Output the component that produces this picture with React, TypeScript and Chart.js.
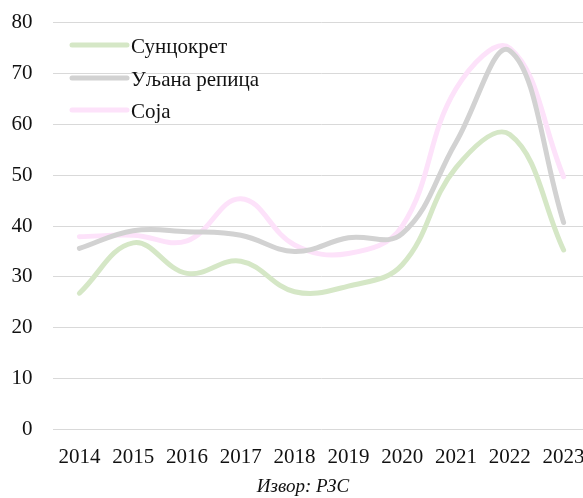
import React, { useEffect, useRef } from "react";
import { Chart, registerables } from "chart.js";

Chart.register(...registerables);

const years = ["2014", "2015", "2016", "2017", "2018", "2019", "2020", "2021", "2022", "2023"];
const sunflower = [26.8, 36.7, 30.7, 33.1, 27.1, 28.2, 32.4, 51.5, 58.0, 35.3];
const rapeseed = [35.6, 39.1, 38.9, 38.2, 35.0, 37.7, 38.5, 56.5, 74.5, 40.7];
const soy = [37.9, 38.2, 37.1, 45.4, 36.3, 34.6, 40.0, 67.0, 75.0, 49.7];
const seriesLabels = ["Сунцокрет", "Уљана репица", "Соја"];
const seriesColors = ["#d5e7c6", "#d2d2d2", "#fde2fa"];
const yMin = 0;
const yMax = 80;
const yStep = 10;
const sourceText = "Извор: РЗС";

const FONT = "'Liberation Serif', serif";

const legendPlugin = {
  id: "insideLegend",
  afterDatasetsDraw(chart: any) {
    const ctx = chart.ctx;
    const x0 = 72;
    const x1 = 127;
    const ys = [45, 78, 110];
    ctx.save();
    chart.data.datasets.forEach((ds: any, i: number) => {
      const y = ys[i];
      ctx.strokeStyle = ds.borderColor;
      ctx.lineWidth = 5;
      ctx.lineCap = "round";
      ctx.beginPath();
      ctx.moveTo(x0, y);
      ctx.lineTo(x1, y);
      ctx.stroke();
      ctx.fillStyle = "#111";
      ctx.font = `21px ${FONT}`;
      ctx.textAlign = "left";
      ctx.textBaseline = "alphabetic";
      ctx.fillText(ds.label, 131, y + 7.5);
    });
    ctx.restore();
  },
};

const sourcePlugin = {
  id: "sourceText",
  afterDraw(chart: any) {
    const ctx = chart.ctx;
    ctx.save();
    ctx.fillStyle = "#111";
    ctx.font = `italic 19px ${FONT}`;
    ctx.textAlign = "center";
    ctx.textBaseline = "alphabetic";
    ctx.fillText(sourceText, chart.width / 2, 492);
    ctx.restore();
  },
};

export default function App() {
  const ref = useRef<HTMLCanvasElement>(null);
  useEffect(() => {
    document.body.style.margin = "0";
    document.body.style.overflow = "hidden";
    const data = [sunflower, rapeseed, soy];
    const chart = new Chart(ref.current as HTMLCanvasElement, {
      type: "line",
      data: {
        labels: years,
        datasets: data.map((d, i) => ({
          label: seriesLabels[i],
          data: d,
          borderColor: seriesColors[i],
          backgroundColor: seriesColors[i],
          borderWidth: 5,
          borderCapStyle: "round",
          tension: 0.4,
          pointRadius: 0,
          fill: false,
        })),
      },
      options: {
        animation: false,
        responsive: true,
        maintainAspectRatio: false,
        layout: { padding: { top: 22.7, left: 0, right: 15.5, bottom: 30.5 } },
        plugins: {
          legend: { display: false },
          title: { display: false },
          tooltip: { enabled: false },
        },
        scales: {
          x: {
            offset: true,
            grid: { display: false, drawTicks: false },
            border: { display: false },
            ticks: {
              color: "#111",
              font: { family: FONT, size: 21 },
              padding: 15,
              maxRotation: 0,
              autoSkip: false,
            },
            afterFit(scale: any) {
              scale.height = 38;
              scale.paddingLeft = 0;
              scale.paddingRight = 0;
            },
          },
          y: {
            min: yMin,
            max: yMax,
            grid: { color: "#d9d9d9", lineWidth: 1, drawTicks: false },
            border: { display: false },
            ticks: {
              stepSize: yStep,
              color: "#111",
              font: { family: FONT, size: 21 },
              padding: 20,
            },
            afterFit(scale: any) {
              scale.width = 52.5;
              scale.paddingTop = 0;
              scale.paddingBottom = 0;
            },
          },
        },
      },
      plugins: [legendPlugin, sourcePlugin],
    });
    return () => chart.destroy();
  }, []);
  return (
    <div style={{ width: 583, height: 498, overflow: "hidden", position: "relative" }}>
      <div style={{ width: 606, height: 498, position: "absolute", left: 0, top: 0 }}>
        <canvas ref={ref} />
      </div>
    </div>
  );
}
